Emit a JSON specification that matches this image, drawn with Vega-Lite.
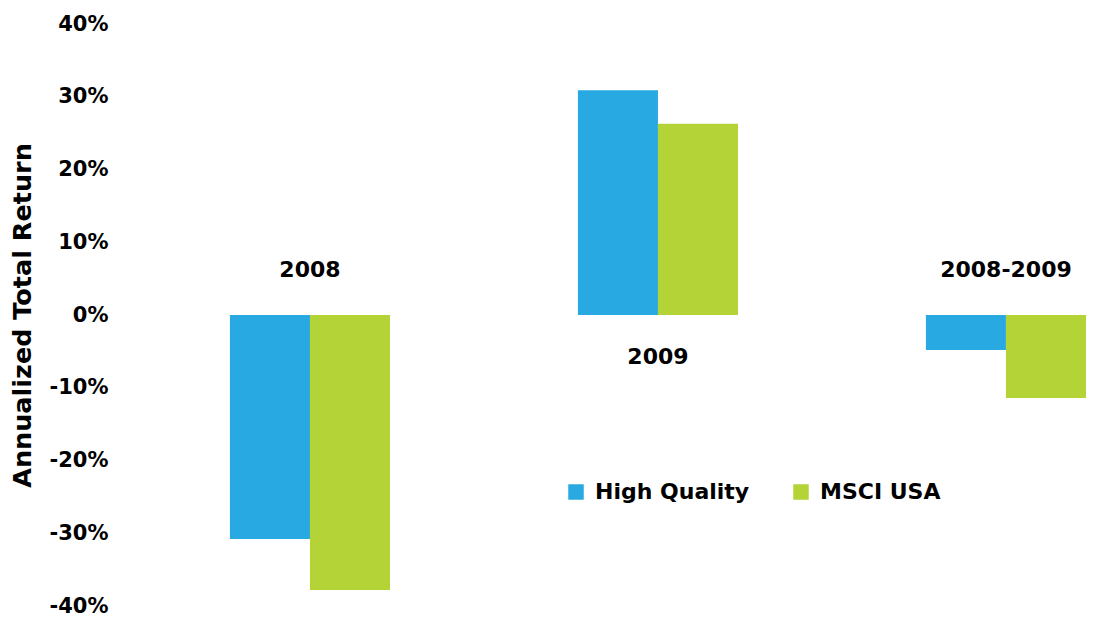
{
  "$schema": "https://vega.github.io/schema/vega-lite/v6.json",
  "width": 972,
  "height": 582,
  "autosize": {"type": "none"},
  "padding": {"left": 125, "top": 24, "right": 0, "bottom": 13},
  "background": "white",
  "config": {
    "view": {"stroke": null},
    "font": "DejaVu Sans"
  },
  "layer": [
    {
      "data": {
        "values": [
          {"period": "2008", "series": "High Quality", "value": -0.308},
          {"period": "2008", "series": "MSCI USA", "value": -0.378},
          {"period": "2009", "series": "High Quality", "value": 0.309},
          {"period": "2009", "series": "MSCI USA", "value": 0.263},
          {"period": "2008-2009", "series": "High Quality", "value": -0.048},
          {"period": "2008-2009", "series": "MSCI USA", "value": -0.114}
        ]
      },
      "mark": {"type": "bar"},
      "encoding": {
        "x": {
          "field": "period",
          "type": "nominal",
          "scale": {"domain": ["2008", "2009", "2008-2009"], "paddingInner": 0.54, "paddingOuter": 0.1666, "align": 0.905},
          "axis": null
        },
        "xOffset": {
          "field": "series",
          "type": "nominal",
          "scale": {"domain": ["High Quality", "MSCI USA"], "paddingInner": 0, "paddingOuter": 0}
        },
        "y": {
          "field": "value",
          "type": "quantitative",
          "scale": {"domain": [-0.4, 0.4], "nice": false, "zero": false},
          "axis": {
            "values": [-0.4, -0.3, -0.2, -0.1, 0, 0.1, 0.2, 0.3, 0.4],
            "labelExpr": "replace(format(datum.value, '.0%'), '\u2212', '-')",
            "grid": false,
            "domain": false,
            "ticks": false,
            "labelPadding": 17,
            "labelFontSize": 21,
            "labelFontWeight": "bold",
            "labelColor": "black",
            "title": "Annualized Total Return",
            "titleFontSize": 25.5,
            "titleFontWeight": "bold",
            "titleColor": "black",
            "titleX": -90,
            "titleAnchor": "middle"
          }
        },
        "color": {
          "field": "series",
          "type": "nominal",
          "scale": {"domain": ["High Quality", "MSCI USA"], "range": ["#29a9e1", "#b4d337"]},
          "legend": {
            "title": null,
            "orient": "none",
            "legendX": 440,
            "legendY": 457,
            "direction": "horizontal",
            "symbolType": "square",
            "symbolSize": 240,
            "symbolStrokeWidth": 0,
            "symbolOpacity": 1,
            "labelFontSize": 22,
            "labelFontWeight": "bold",
            "labelColor": "black",
            "labelOffset": 8,
            "labelLimit": 300,
            "columnPadding": 40
          }
        }
      }
    },
    {
      "mark": {"type": "rule", "color": "#1f5f8f", "strokeWidth": 3},
      "encoding": {"y": {"datum": 0}}
    },
    {
      "data": {"values": [{"period": "2008"}, {"period": "2008-2009"}]},
      "mark": {"type": "text", "fontSize": 22, "fontWeight": "bold", "color": "black", "dy": -45, "baseline": "middle"},
      "encoding": {
        "x": {"field": "period", "type": "nominal"},
        "y": {"datum": 0},
        "text": {"field": "period"}
      }
    },
    {
      "data": {"values": [{"period": "2009"}]},
      "mark": {"type": "text", "fontSize": 22, "fontWeight": "bold", "color": "black", "dy": 42, "baseline": "middle"},
      "encoding": {
        "x": {"field": "period", "type": "nominal"},
        "y": {"datum": 0},
        "text": {"field": "period"}
      }
    }
  ]
}
